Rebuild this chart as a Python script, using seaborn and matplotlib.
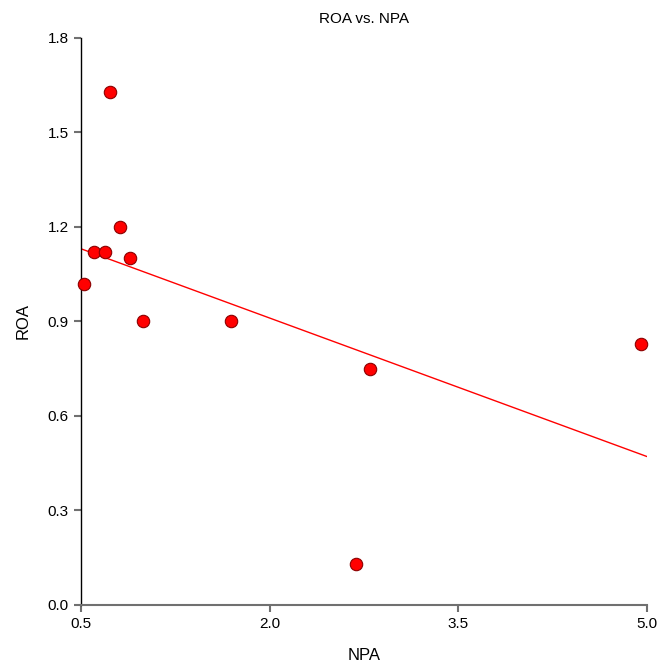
import pandas as pd
import matplotlib.pyplot as plt
import seaborn as sns

npa = [0.52, 0.60, 0.69, 0.73, 0.81, 0.89, 0.99, 1.69, 2.80, 2.69, 4.95]
roa = [1.02, 1.12, 1.12, 1.63, 1.20, 1.10, 0.90, 0.90, 0.75, 0.13, 0.83]
x_ticks = [0.5, 2.0, 3.5, 5.0]
y_ticks = [0.0, 0.3, 0.6, 0.9, 1.2, 1.5, 1.8]

df = pd.DataFrame({'NPA': npa, 'ROA': roa})

sns.set_style('white')
plt.rcParams['font.family'] = ['Liberation Sans', 'DejaVu Sans']
plt.rcParams['text.color'] = 'black'
plt.rcParams['axes.labelcolor'] = 'black'
plt.rcParams['xtick.color'] = 'black'
plt.rcParams['ytick.color'] = 'black'

fig = plt.figure(figsize=(6.57, 6.66), dpi=100)
ax = fig.add_axes([0.1233, 0.0916, 0.8615, 0.8514])
ax.set_xlim(0.5, 5.0)
ax.set_ylim(0.0, 1.8)

sns.regplot(x='NPA', y='ROA', data=df, ax=ax, ci=None, truncate=False,
            scatter_kws={'s': 80, 'color': '#ff0000', 'edgecolor': '#8b0000',
                         'linewidths': 0.8, 'alpha': 1, 'clip_on': False, 'zorder': 3},
            line_kws={'color': '#ff0000', 'linewidth': 1})

ax.set_xticks(x_ticks)
ax.set_yticks(y_ticks)
ax.set_xticklabels([f'{t:.1f}' for t in x_ticks])
ax.set_yticklabels([f'{t:.1f}' for t in y_ticks])
ax.set_title('ROA vs. NPA', fontsize=11, pad=11)
ax.set_xlabel('NPA', fontsize=12, labelpad=12)
ax.set_ylabel('ROA', fontsize=12, labelpad=12)

sns.despine(ax=ax)
ax.spines['left'].set_color('black')
ax.spines['bottom'].set_color('#707070')
ax.spines['left'].set_linewidth(1)
ax.spines['bottom'].set_linewidth(1.5)
ax.tick_params(axis='x', direction='out', length=5, width=1.5, color='#707070',
               labelsize=11, labelcolor='black', pad=4, bottom=True)
ax.tick_params(axis='y', direction='out', length=5, width=1.5, color='#707070',
               labelsize=11, labelcolor='black', pad=4, left=True)

fig.savefig('out.png', dpi=100)
